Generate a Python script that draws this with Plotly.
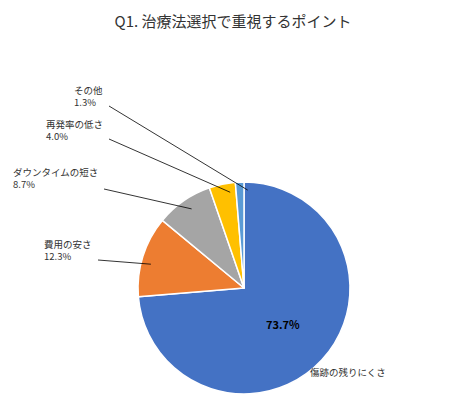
import math
import plotly.graph_objects as go

labels = ["傷跡の残りにくさ", "費用の安さ", "ダウンタイムの短さ", "再発率の低さ", "その他"]
values = [73.7, 12.3, 8.7, 4.0, 1.3]
colors = ["#4472C4", "#ED7D31", "#A5A5A5", "#FFC000", "#5B9BD5"]
# label text positions (pixels): right edge, centre y ; leader line start
label_pos = {1: (86, 242), 2: (92, 170), 3: (97, 122), 4: (97, 88)}
line_start = {1: (90, 252), 2: (96, 181), 3: (101, 131), 4: (101, 98)}

W, H = 450, 409
cx, cy, r = 244, 288, 106
ox, oy = -8, -8  # renderer offset correction
font = "Noto Sans CJK JP"

fig = go.Figure(go.Pie(
    labels=labels, values=values, sort=False, direction="clockwise", rotation=0,
    marker=dict(colors=colors, line=dict(color="white", width=1.5)),
    texttemplate=["<b>%{percent:.1%}</b>", "", "", "", ""],
    textposition="inside", insidetextfont=dict(color="black", size=11, family=font),
    showlegend=False, hoverinfo="label+percent",
    domain=dict(x=[(cx + ox - r) / W, (cx + ox + r) / W],
                y=[1 - (cy + oy + r) / H, 1 - (cy + oy - r) / H]),
))

anns, shapes = [], []
total = sum(values)
cum = 0
for i, v in enumerate(values):
    mid = (cum + v / 2) / total * 2 * math.pi
    cum += v
    if i == 0:
        continue
    ex = cx + r * math.sin(mid)
    ey = cy - r * math.cos(mid)
    tx, ty = label_pos[i]
    sx, sy = line_start[i]
    shapes.append(dict(type="line", xref="paper", yref="paper",
                       x0=sx / W, y0=1 - sy / H, x1=ex / W, y1=1 - ey / H,
                       line=dict(color="black", width=0.8)))
    anns.append(dict(
        x=tx / W, y=1 - ty / H, xref="paper", yref="paper", xanchor="right", yanchor="middle",
        text=f"{labels[i]}<br>{values[i]:.1f}%", align="left", showarrow=False,
        font=dict(size=9.5, family=font, color="#333"),
    ))
anns.append(dict(x=380 / W, y=1 - 373 / H, xref="paper", yref="paper",
                 text=labels[0], showarrow=False,
                 font=dict(size=9.5, family=font, color="#333")))

fig.update_layout(
    width=W, height=H, margin=dict(l=0, r=0, t=0, b=0),
    paper_bgcolor="white",
    title=dict(text="Q1. 治療法選択で重視するポイント", x=0.5, xanchor="center",
               y=1 - 14 / H, yanchor="middle", font=dict(size=15, family=font, color="#333")),
    annotations=anns, shapes=shapes,
)
fig.write_html("out.html")
